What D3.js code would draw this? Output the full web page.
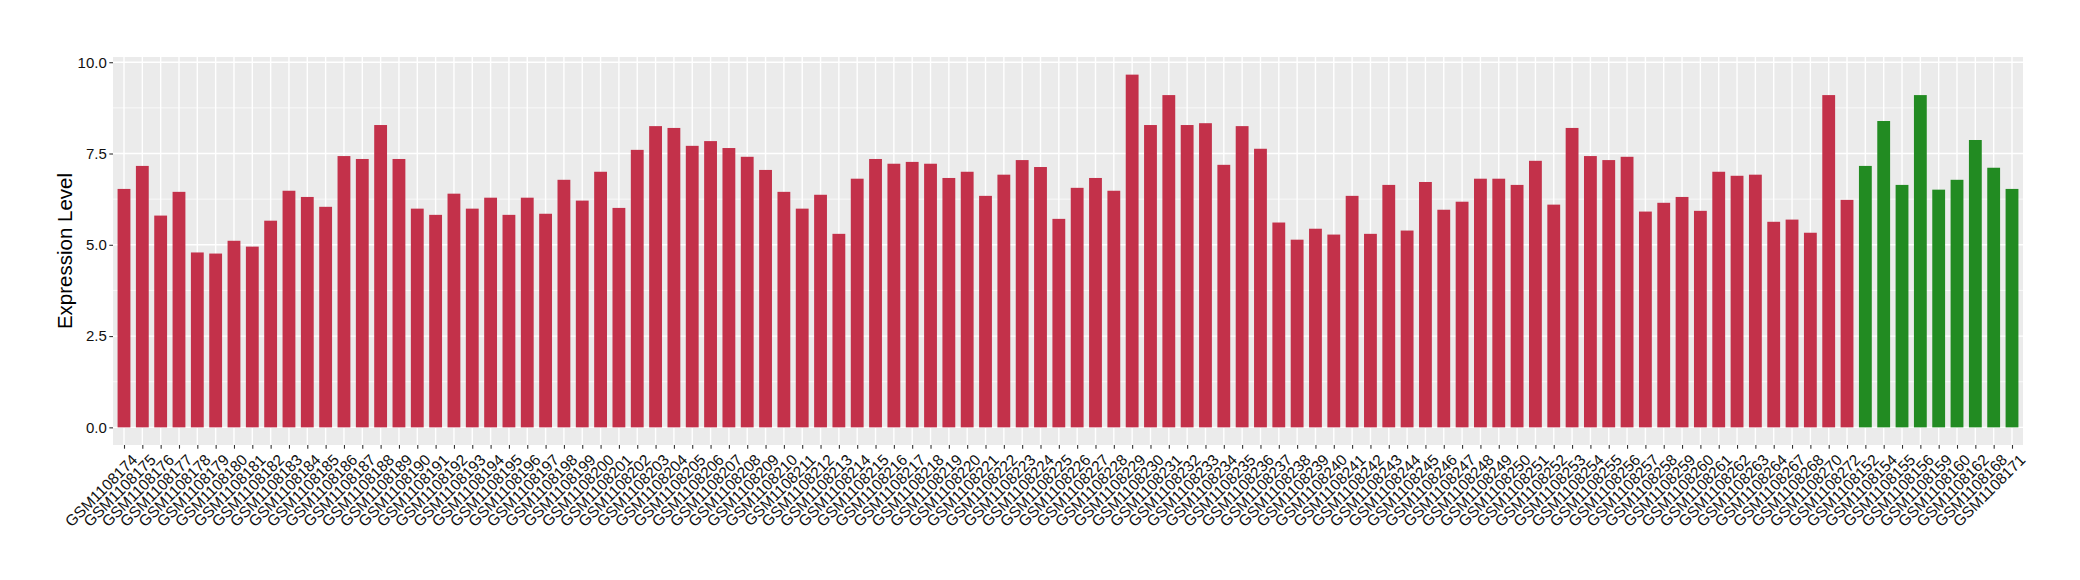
<!DOCTYPE html>
<html><head><meta charset="utf-8">
<script src="https://cdn.jsdelivr.net/npm/d3@7/dist/d3.min.js"></script>
<style>body{margin:0;background:#fff}</style>
</head><body><svg id="chart" width="2080" height="580"></svg>
<script>
const categories = [
 "GSM1108174","GSM1108175","GSM1108176","GSM1108177","GSM1108178","GSM1108179","GSM1108180","GSM1108181","GSM1108182","GSM1108183",
 "GSM1108184","GSM1108185","GSM1108186","GSM1108187","GSM1108188","GSM1108189","GSM1108190","GSM1108191","GSM1108192","GSM1108193",
 "GSM1108194","GSM1108195","GSM1108196","GSM1108197","GSM1108198","GSM1108199","GSM1108200","GSM1108201","GSM1108202","GSM1108203",
 "GSM1108204","GSM1108205","GSM1108206","GSM1108207","GSM1108208","GSM1108209","GSM1108210","GSM1108211","GSM1108212","GSM1108213",
 "GSM1108214","GSM1108215","GSM1108216","GSM1108217","GSM1108218","GSM1108219","GSM1108220","GSM1108221","GSM1108222","GSM1108223",
 "GSM1108224","GSM1108225","GSM1108226","GSM1108227","GSM1108228","GSM1108229","GSM1108230","GSM1108231","GSM1108232","GSM1108233",
 "GSM1108234","GSM1108235","GSM1108236","GSM1108237","GSM1108238","GSM1108239","GSM1108240","GSM1108241","GSM1108242","GSM1108243",
 "GSM1108244","GSM1108245","GSM1108246","GSM1108247","GSM1108248","GSM1108249","GSM1108250","GSM1108251","GSM1108252","GSM1108253",
 "GSM1108254","GSM1108255","GSM1108256","GSM1108257","GSM1108258","GSM1108259","GSM1108260","GSM1108261","GSM1108262","GSM1108263",
 "GSM1108264","GSM1108267","GSM1108268","GSM1108270","GSM1108272",
 "GSM1108152","GSM1108154","GSM1108155","GSM1108156","GSM1108159","GSM1108160","GSM1108162","GSM1108168","GSM1108171"
];
const values = [
 6.53,7.16,5.80,6.45,4.79,4.76,5.11,4.95,5.66,6.48,
 6.31,6.04,7.43,7.35,8.28,7.35,5.99,5.82,6.40,5.99,
 6.29,5.82,6.29,5.85,6.78,6.21,7.00,6.01,7.60,8.25,
 8.20,7.71,7.84,7.65,7.41,7.05,6.45,5.99,6.37,5.30,
 6.81,7.35,7.22,7.27,7.22,6.83,7.00,6.34,6.92,7.32,
 7.13,5.71,6.56,6.83,6.48,9.66,8.28,9.10,8.28,8.33,
 7.19,8.25,7.63,5.61,5.14,5.44,5.28,6.34,5.30,6.64,
 5.39,6.72,5.96,6.18,6.81,6.81,6.64,7.30,6.10,8.20,
 7.43,7.32,7.41,5.91,6.15,6.31,5.93,7.00,6.89,6.92,
 5.63,5.69,5.33,9.10,6.23,
 7.16,8.39,6.64,9.10,6.51,6.78,7.87,7.11,6.53
];
const groups = categories.map((c, i) => i < 95 ? "A" : "B");
const groupColors = { A: "#C3314A", B: "#228B22" };
const yTicks = [0, 2.5, 5, 7.5, 10];
const yMinor = [1.25, 3.75, 6.25, 8.75];
const yTitle = "Expression Level";

const data = categories.map((c, i) => ({ cat: c, val: values[i], grp: groups[i] }));

const svg = d3.select("#chart");
const P = { left: 113, right: 2023, top: 57, bottom: 445 };
const FONT = "'Liberation Sans', Arial, Helvetica, sans-serif";

const vmax = d3.max(values);
const y = d3.scaleLinear().domain([-0.05 * vmax, vmax * 1.05]).range([P.bottom, P.top]);
const x = d3.scalePoint().domain(categories).range([P.left, P.right]).padding(0.6);
const step = x.step();
const bw = step * 0.7;

svg.append("rect").attr("width", 2080).attr("height", 580).attr("fill", "#fff");
svg.append("rect").attr("x", P.left).attr("y", P.top)
  .attr("width", P.right - P.left).attr("height", P.bottom - P.top).attr("fill", "#EBEBEB");

const grid = svg.append("g");
grid.selectAll("line.minor").data(yMinor).enter().append("line")
  .attr("x1", P.left).attr("x2", P.right)
  .attr("y1", d => y(d)).attr("y2", d => y(d))
  .attr("stroke", "#fff").attr("stroke-width", 0.7);
grid.selectAll("line.majy").data(yTicks).enter().append("line")
  .attr("x1", P.left).attr("x2", P.right)
  .attr("y1", d => y(d)).attr("y2", d => y(d))
  .attr("stroke", "#fff").attr("stroke-width", 1.4);
grid.selectAll("line.majx").data(categories).enter().append("line")
  .attr("y1", P.top).attr("y2", P.bottom)
  .attr("x1", d => x(d)).attr("x2", d => x(d))
  .attr("stroke", "#fff").attr("stroke-width", 1.4);

svg.append("g").selectAll("rect").data(data).enter().append("rect")
  .attr("x", d => x(d.cat) - bw / 2)
  .attr("width", bw)
  .attr("y", d => y(d.val))
  .attr("height", d => y(0) - y(d.val))
  .attr("fill", d => groupColors[d.grp]);

// Y axis
const yAxis = d3.axisLeft(y).tickValues(yTicks).tickFormat(d3.format(".1f")).tickSize(3.7).tickPadding(2.5);
const gy = svg.append("g").attr("transform", `translate(${P.left},0)`).call(yAxis);
gy.select(".domain").remove();
gy.selectAll(".tick line").attr("stroke", "#333").attr("stroke-width", 1.1);
gy.selectAll(".tick text").attr("fill", "#111").style("font-family", FONT).style("font-size", "15px");

// X axis
const xAxis = d3.axisBottom(x).tickSize(3.7).tickPadding(0);
const gx = svg.append("g").attr("transform", `translate(0,${P.bottom})`).call(xAxis);
gx.select(".domain").remove();
gx.selectAll(".tick line").attr("stroke", "#333").attr("stroke-width", 1.1);
gx.selectAll(".tick text")
  .attr("fill", "#111").style("font-family", FONT).style("font-size", "15.5px")
  .attr("text-anchor", "end")
  .attr("y", 0).attr("dy", "0.72em")
  .attr("transform", "translate(6,8) rotate(-45)");

// Y title
svg.append("text")
  .attr("transform", `translate(65,${(P.top + P.bottom) / 2}) rotate(-90)`)
  .attr("text-anchor", "middle").attr("dy", "0.35em")
  .style("font-family", FONT).style("font-size", "20.5px").attr("fill", "#000")
  .text(yTitle);
</script>
</body></html>
